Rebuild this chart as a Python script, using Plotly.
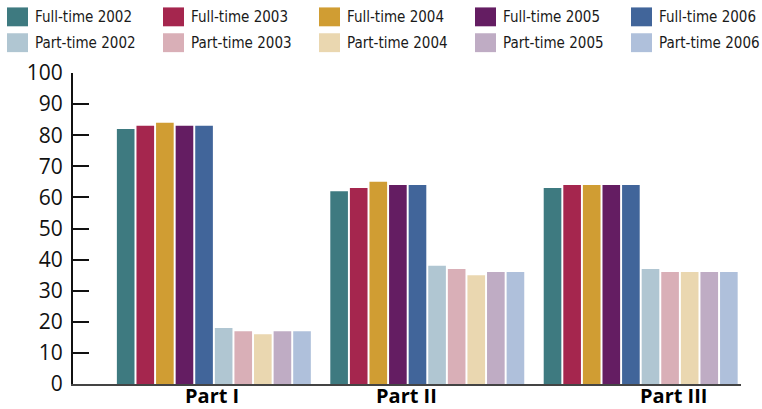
import plotly.graph_objects as go

categories = ["Part I", "Part II", "Part III"]
series_names = ["Full-time 2002", "Full-time 2003", "Full-time 2004", "Full-time 2005", "Full-time 2006",
                "Part-time 2002", "Part-time 2003", "Part-time 2004", "Part-time 2005", "Part-time 2006"]
ft2002 = [82, 62, 63]
ft2003 = [83, 63, 64]
ft2004 = [84, 65, 64]
ft2005 = [83, 64, 64]
ft2006 = [83, 64, 64]
pt2002 = [18, 38, 37]
pt2003 = [17, 37, 36]
pt2004 = [16, 35, 36]
pt2005 = [17, 36, 36]
pt2006 = [17, 36, 36]
series_values = [ft2002, ft2003, ft2004, ft2005, ft2006, pt2002, pt2003, pt2004, pt2005, pt2006]
colors = ["#3E7A80", "#A5264E", "#D09D33", "#641D62", "#41659A",
          "#B0C6D2", "#D9AFB7", "#EAD7B0", "#BFACC4", "#AFC0DB"]
y_ticks = [0, 10, 20, 30, 40, 50, 60, 70, 80, 90, 100]

W, H = 762, 409
ML, MR, MT, MB = 73, 21, 73, 23
PW = W - ML - MR
PH = H - MT - MB

fig = go.Figure()
for name, vals, col in zip(series_names, series_values, colors):
    fig.add_trace(go.Bar(x=categories, y=vals, name=name, marker_color=col,
                         marker_line_width=0, showlegend=False))

def px_to_paper_x(px):
    return (px - ML) / PW

def px_to_paper_y(py):
    return 1 - (py - MT) / PH

shapes = []
annotations = []
# manual legend: 5 columns x 2 rows
for i, (name, col) in enumerate(zip(series_names, colors)):
    c = i % 5
    r = i // 5
    x0 = 7 + 156 * c
    y0 = 7 + 26 * r
    shapes.append(dict(type="rect", xref="paper", yref="paper",
                       x0=px_to_paper_x(x0), x1=px_to_paper_x(x0 + 21),
                       y0=px_to_paper_y(y0 + 19), y1=px_to_paper_y(y0),
                       fillcolor=col, line=dict(width=0)))
    annotations.append(dict(text=name, xref="paper", yref="paper",
                            x=px_to_paper_x(x0 + 26), y=px_to_paper_y(y0 + 9.5),
                            xanchor="left", yanchor="middle", showarrow=False,
                            font=dict(family="DejaVu Sans Condensed", size=15, color="#1a1a1a")))

# category labels
label_shift = [-1.5, -20.5, 33]
for cat, sh in zip(categories, label_shift):
    annotations.append(dict(text="<b>" + cat + "</b>", x=cat, xref="x", yref="paper", y=0,
                            yanchor="top", xanchor="center", yshift=3, xshift=sh, showarrow=False,
                            borderpad=0,
                            font=dict(family="Open Sans", size=20, color="#000")))

fig.update_layout(
    width=W, height=H,
    margin=dict(l=ML, r=MR, t=MT, b=MB),
    paper_bgcolor="white", plot_bgcolor="white",
    barmode="group", bargap=0.082, bargroupgap=0.1,
    shapes=shapes, annotations=annotations,
    xaxis=dict(range=[-0.66, 2.47], showticklabels=False, ticks="",
               showline=True, linecolor="#444", linewidth=2, showgrid=False, zeroline=False),
    yaxis=dict(range=[0, 100], tickvals=y_ticks, ticks="inside", ticklen=16, tickwidth=2,
               tickcolor="#111", showline=True, linecolor="#111", linewidth=2,
               showgrid=False, zeroline=False,
               tickfont=dict(family="Open Sans", size=21, color="#111"), ticklabelstandoff=4),
)

fig.write_html("out.html")
